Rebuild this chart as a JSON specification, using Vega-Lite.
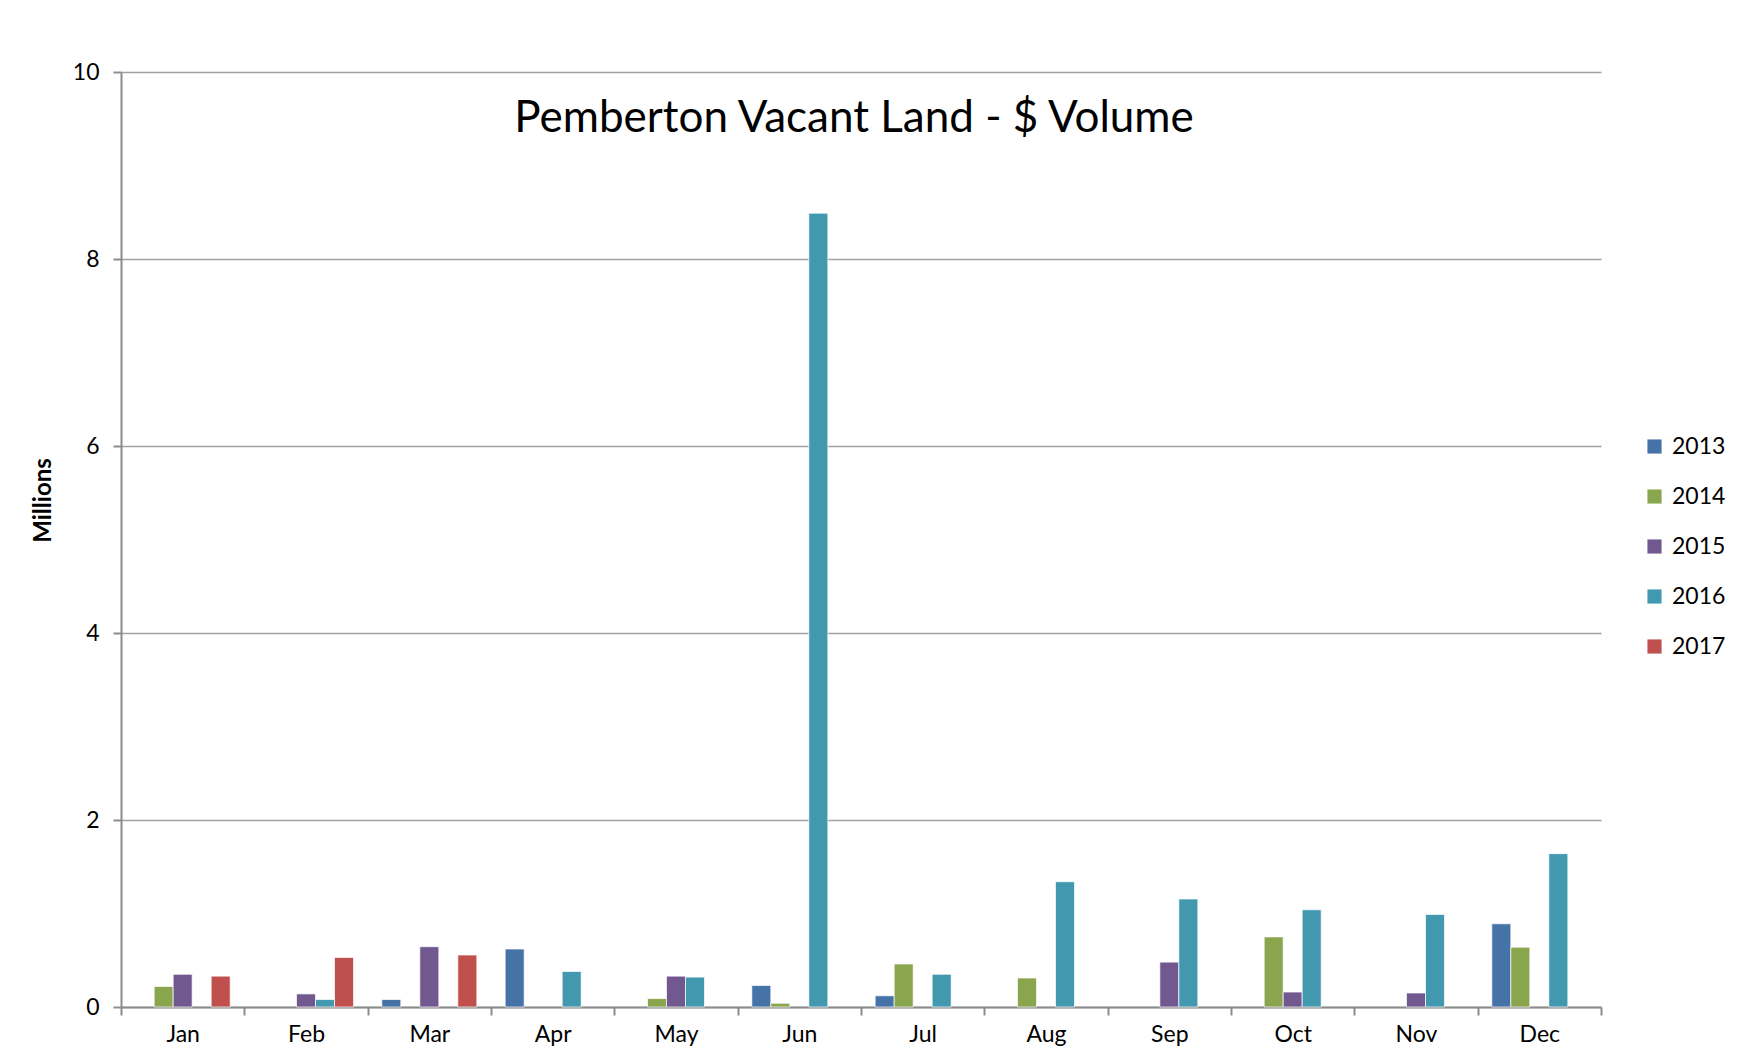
{
  "$schema": "https://vega.github.io/schema/vega-lite/v6.json",
  "width": 1480,
  "height": 935,
  "autosize": {"type": "none"},
  "padding": {"left": 121, "top": 72, "right": 136, "bottom": 52},
  "background": "white",
  "title": {
    "text": "Pemberton Vacant Land - $ Volume",
    "font": "Lato",
    "fontSize": 44,
    "fontWeight": "normal",
    "color": "#000000",
    "anchor": "middle",
    "offset": -80,
    "dx": -7
  },
  "data": {
    "values": [
      {"month": "Jan", "year": "2014", "value": 0.22},
      {"month": "Jan", "year": "2015", "value": 0.35},
      {"month": "Jan", "year": "2017", "value": 0.33},
      {"month": "Feb", "year": "2015", "value": 0.14},
      {"month": "Feb", "year": "2016", "value": 0.08},
      {"month": "Feb", "year": "2017", "value": 0.53},
      {"month": "Mar", "year": "2013", "value": 0.08},
      {"month": "Mar", "year": "2015", "value": 0.645},
      {"month": "Mar", "year": "2017", "value": 0.556},
      {"month": "Apr", "year": "2013", "value": 0.62},
      {"month": "Apr", "year": "2016", "value": 0.38},
      {"month": "May", "year": "2014", "value": 0.09},
      {"month": "May", "year": "2015", "value": 0.33},
      {"month": "May", "year": "2016", "value": 0.32},
      {"month": "Jun", "year": "2013", "value": 0.23},
      {"month": "Jun", "year": "2014", "value": 0.04},
      {"month": "Jun", "year": "2016", "value": 8.49},
      {"month": "Jul", "year": "2013", "value": 0.12},
      {"month": "Jul", "year": "2014", "value": 0.46},
      {"month": "Jul", "year": "2016", "value": 0.35},
      {"month": "Aug", "year": "2014", "value": 0.31},
      {"month": "Aug", "year": "2016", "value": 1.34},
      {"month": "Sep", "year": "2015", "value": 0.48},
      {"month": "Sep", "year": "2016", "value": 1.155},
      {"month": "Oct", "year": "2014", "value": 0.75},
      {"month": "Oct", "year": "2015", "value": 0.16},
      {"month": "Oct", "year": "2016", "value": 1.04},
      {"month": "Nov", "year": "2015", "value": 0.15},
      {"month": "Nov", "year": "2016", "value": 0.99},
      {"month": "Dec", "year": "2013", "value": 0.89},
      {"month": "Dec", "year": "2014", "value": 0.64},
      {"month": "Dec", "year": "2016", "value": 1.64}
    ]
  },
  "mark": {"type": "bar", "stroke": "white", "strokeWidth": 1, "strokeOpacity": 0.7},
  "encoding": {
    "x": {
      "field": "month",
      "type": "nominal",
      "sort": ["Jan","Feb","Mar","Apr","May","Jun","Jul","Aug","Sep","Oct","Nov","Dec"],
      "scale": {"paddingInner": 0, "paddingOuter": 0},
      "axis": {
        "title": null,
        "labelAngle": 0,
        "labelFont": "Lato",
        "labelFontSize": 23,
        "labelColor": "#000000",
        "labelPadding": 8,
        "tickBand": "extent",
        "tickSize": 8,
        "tickColor": "#8c8c8c",
        "tickWidth": 2,
        "domainColor": "#8c8c8c",
        "domainWidth": 2
      }
    },
    "xOffset": {
      "field": "year",
      "type": "nominal",
      "scale": {"domain": ["2013","2014","2015","2016","2017"], "paddingInner": 0, "paddingOuter": 0.745}
    },
    "y": {
      "field": "value",
      "type": "quantitative",
      "scale": {"domain": [0, 10], "nice": false},
      "axis": {
        "title": "Millions",
        "titleFont": "Lato",
        "titleFontSize": 24,
        "titleFontWeight": "bold",
        "titleColor": "#000000",
        "titleX": -66,
        "titleY": 428,
        "values": [0, 2, 4, 6, 8, 10],
        "labelFont": "Lato",
        "labelFontSize": 23,
        "labelColor": "#000000",
        "labelPadding": 14,
        "tickSize": 8,
        "tickColor": "#8c8c8c",
        "tickWidth": 2,
        "domainColor": "#8c8c8c",
        "domainWidth": 2,
        "grid": true,
        "gridColor": "#a0a0a0",
        "gridWidth": 1.5
      }
    },
    "color": {
      "field": "year",
      "type": "nominal",
      "scale": {
        "domain": ["2013","2014","2015","2016","2017"],
        "range": ["#4572a7","#89a54e","#71588f","#4198af","#c0504d"]
      },
      "legend": {
        "title": null,
        "orient": "none",
        "legendX": 1522,
        "legendY": 363,
        "symbolType": "square",
        "symbolSize": 200,
        "symbolStrokeWidth": 0,
        "labelFont": "Lato",
        "labelFontSize": 23,
        "labelColor": "#000000",
        "labelOffset": 6,
        "rowPadding": 26
      }
    }
  },
  "config": {
    "view": {"stroke": null}
  }
}
